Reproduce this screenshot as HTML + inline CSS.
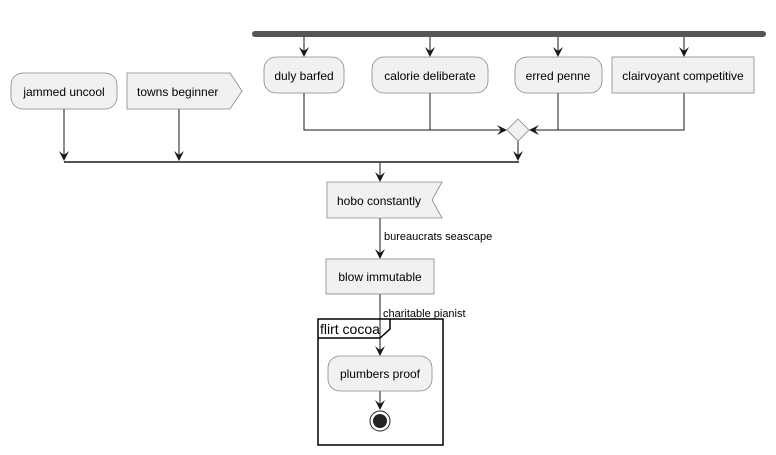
<!DOCTYPE html>
<html><head><style>body{margin:0;background:#fff}svg{display:block}</style></head><body>
<svg width="776" height="455" viewBox="0 0 776 455" xmlns="http://www.w3.org/2000/svg" font-family="Liberation Sans, sans-serif">
<g stroke="#181818" fill="none" stroke-width="1">
<line x1="304" y1="37" x2="304" y2="55"/>
<line x1="430" y1="37" x2="430" y2="55"/>
<line x1="558" y1="37" x2="558" y2="55"/>
<line x1="684" y1="37" x2="684" y2="55"/>
<polyline points="304,93 304,130 430,130"/>
<polyline points="430,93 430,130 505,130"/>
<polyline points="684,93 684,130 558,130"/>
<polyline points="558,93 558,130 531,130"/>
<line x1="518" y1="141" x2="518" y2="160"/>
<line x1="64" y1="109" x2="64" y2="160"/>
<line x1="179" y1="109" x2="179" y2="160"/>
<line x1="64" y1="162" x2="519" y2="162" stroke-width="1.5"/>
<line x1="380" y1="163" x2="380" y2="180"/>
<line x1="380" y1="218" x2="380" y2="257"/>
<line x1="380" y1="294" x2="380" y2="354"/>
<line x1="380" y1="391" x2="380" y2="408"/>
</g>
<g fill="#181818">
<polygon points="299,47 304,57 309,47 304,51"/>
<polygon points="425,47 430,57 435,47 430,51"/>
<polygon points="553,47 558,57 563,47 558,51"/>
<polygon points="679,47 684,57 689,47 684,51"/>
<polygon points="497,125 507,130 497,135 501,130"/>
<polygon points="539,125 529,130 539,135 535,130"/>
<polygon points="513,151 518,161 523,151 518,155"/>
<polygon points="59,151 64,161 69,151 64,155"/>
<polygon points="174,151 179,161 184,151 179,155"/>
<polygon points="375,172 380,182 385,172 380,176"/>
<polygon points="375,249 380,259 385,249 380,253"/>
<polygon points="375,346 380,356 385,346 380,350"/>
<polygon points="375,400 380,410 385,400 380,404"/>
</g>
<rect x="252" y="31" width="514" height="6" rx="3" fill="#555"/>
<g stroke="#888" fill="#f1f1f1" stroke-width="0.8">
<rect x="264" y="57" width="80" height="36" rx="12"/>
<rect x="372" y="57" width="116" height="36" rx="12"/>
<rect x="515" y="57" width="87" height="36" rx="12"/>
<rect x="612" y="57" width="142" height="36"/>
<rect x="11" y="73" width="106" height="36" rx="12"/>
<polygon points="127,73 230,73 242,91 230,109 127,109"/>
<polygon points="507,130 518,119 529,130 518,141"/>
<polygon points="327,182 442,182 432,200 442,218 327,218"/>
<rect x="326" y="259" width="108" height="35"/>
<rect x="328" y="356" width="104" height="35" rx="12"/>
</g>
<g font-size="12" fill="#000">
<text x="304" y="80" text-anchor="middle">duly barfed</text>
<text x="430" y="80" text-anchor="middle">calorie deliberate</text>
<text x="558" y="80" text-anchor="middle">erred penne</text>
<text x="683" y="80" text-anchor="middle">clairvoyant competitive</text>
<text x="64" y="96" text-anchor="middle">jammed uncool</text>
<text x="137" y="96">towns beginner</text>
<text x="337" y="205">hobo constantly</text>
<text x="380" y="281" text-anchor="middle">blow immutable</text>
<text x="380" y="378" text-anchor="middle">plumbers proof</text>
</g>
<g font-size="11" fill="#000">
<text x="384" y="240">bureaucrats seascape</text>
<text x="383" y="317">charitable pianist</text>
</g>
<rect x="318" y="319" width="125" height="126" fill="none" stroke="#000" stroke-width="1.5"/>
<polyline points="318,338 380,338 390,329 390,319" fill="none" stroke="#000" stroke-width="1.5"/>
<text x="320" y="334" font-size="14" fill="#000">flirt cocoa</text>
<circle cx="380" cy="421" r="10" fill="none" stroke="#222" stroke-width="1"/>
<circle cx="380" cy="421" r="7" fill="#222"/>
</svg>
</body></html>
